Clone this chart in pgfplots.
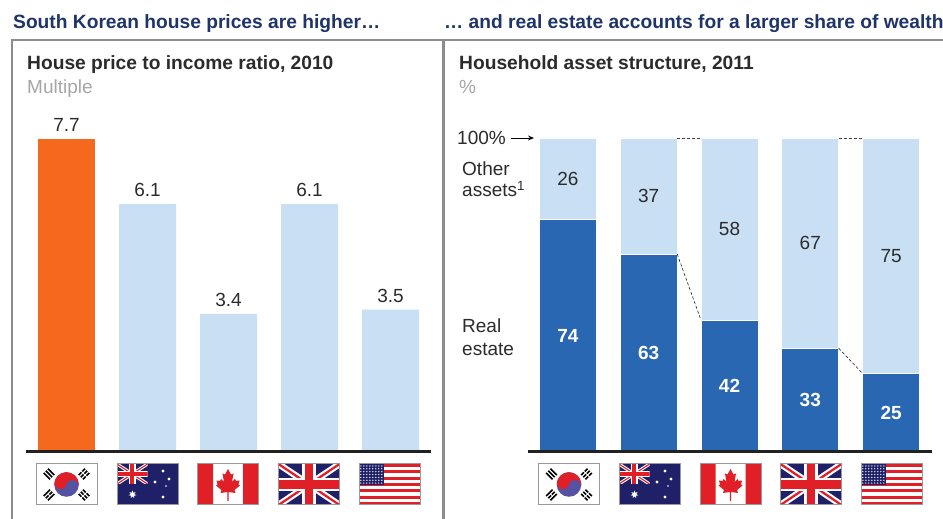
\documentclass[border=0pt]{standalone}
\usepackage{pgfplots}
\usepackage{fontspec}
\usetikzlibrary{arrows.meta,shapes.geometric}
\setmainfont{Liberation Sans}
\pgfplotsset{compat=1.18}
\definecolor{head}{HTML}{1F3468}
\definecolor{frameg}{HTML}{8C8C8C}
\definecolor{subg}{HTML}{A6A6A6}
\definecolor{txt}{HTML}{2B2B2B}
\definecolor{orangeb}{HTML}{F5691F}
\definecolor{lightb}{HTML}{C9E0F4}
\definecolor{blueb}{HTML}{2967B2}
\definecolor{fred}{HTML}{E01F26}
\definecolor{fnavy}{HTML}{1F2068}
\definecolor{fblue}{HTML}{5552A3}
\definecolor{fbord}{HTML}{999999}
\newcommand{\bighead}{\fontsize{19.2}{21}\selectfont\bfseries}
\newcommand{\regular}{\fontsize{19}{21}\selectfont}
\pgfplotstableread{
x v
0 7.7
}\dataKR
\pgfplotstableread{
x v
1 6.1
2 3.4
3 6.1
4 3.5
}\dataOthers
\pgfplotstableread{
x v
0 74
1 63
2 42
3 33
4 25
}\dataReal
\pgfplotstableread{
x v
0 26
1 37
2 58
3 67
4 75
}\dataOther
\newcommand{\flagframe}{\draw[fbord,line width=1pt] (0,0) rectangle (61,41);}
\newcommand{\trigram}[4]{%
 \begin{scope}[shift={(#1,#2)},rotate=#3]
  \foreach \yy in {-3,0,3}{\draw[black,line width=1.7pt] (-4.5,\yy) -- (4.5,\yy);}
  #4
 \end{scope}}
\newcommand{\flagKR}[2]{%
\begin{scope}[shift={(#1,#2)},x=1pt,y=-1pt]
 \fill[white] (0,0) rectangle (61,41);
 \fill[fblue] (30.5,20.5) circle (12.3);
 \begin{scope}[shift={(30.5,20.5)},rotate=-15]
 \fill[fred] (-12.3,0) arc[start angle=180,end angle=360,radius=12.3] arc[start angle=0,end angle=-180,radius=6.15] arc[start angle=0,end angle=180,radius=6.15] -- cycle;
 \end{scope}
 \trigram{13}{10}{-45}{}
 \trigram{48}{10}{45}{\draw[white,line width=1pt] (0,-5)--(0,5);}
 \trigram{13}{31}{45}{\draw[white,line width=1pt] (0,-1)--(0,1);}
 \trigram{48}{31}{-45}{\draw[white,line width=1pt] (0,-5)--(0,5);}
 \flagframe
\end{scope}}
\newcommand{\unionjack}[2]{% width height
 \begin{scope}
 \clip (0,0) rectangle (#1,#2);
 \fill[fnavy] (0,0) rectangle (#1,#2);
 \draw[white,line width=#2*0.16pt] (0,0)--(#1,#2) (0,#2)--(#1,0);
 \draw[fred,line width=#2*0.055pt] (0,0)--(#1,#2) (0,#2)--(#1,0);
 \draw[white,line width=#2*0.34pt] (#1*0.5,0)--(#1*0.5,#2) (0,#2*0.5)--(#1,#2*0.5);
 \draw[fred,line width=#2*0.2pt] (#1*0.5,0)--(#1*0.5,#2) (0,#2*0.5)--(#1,#2*0.5);
 \end{scope}}
\newcommand{\flagAU}[2]{%
\begin{scope}[shift={(#1,#2)},x=1pt,y=-1pt]
 \fill[fnavy] (0,0) rectangle (61,41);
 \unionjack{30.5}{20}
 \node[star,star points=7,star point ratio=2.2,fill=white,inner sep=0,minimum size=8pt] at (15.5,30.5) {};
 \foreach \a/\b/\r in {46/7/1.6,38/18/1.6,52/15/1.6,46/33/1.6,49/22/0.8}{\fill[white] (\a,\b) circle (\r);}
 \flagframe
\end{scope}}
\newcommand{\flagCA}[2]{%
\begin{scope}[shift={(#1,#2)},x=1pt,y=-1pt]
 \fill[white] (0,0) rectangle (61,41);
 \fill[fred] (0,0) rectangle (15.5,41) (45.5,0) rectangle (61,41);
 \fill[fred] (30.5,5)--(27.5,10.5)--(25,9.5)--(26.5,18)--(23.5,15)--(22.5,17)--(19,16.5)--(20,20.5)--(18.5,21.5)--(24,26)--(23,29)--(29.8,28)--(29.8,37)--(31.2,37)--(31.2,28)--(38,29)--(37,26)--(42.5,21.5)--(41,20.5)--(42,16.5)--(38.5,17)--(37.5,15)--(34.5,18)--(36,9.5)--(33.5,10.5)--cycle;
 \flagframe
\end{scope}}
\newcommand{\flagUK}[2]{%
\begin{scope}[shift={(#1,#2)},x=1pt,y=-1pt]
 \unionjack{61}{41}
 \flagframe
\end{scope}}
\newcommand{\flagUS}[2]{%
\begin{scope}[shift={(#1,#2)},x=1pt,y=-1pt]
 \fill[white] (0,0) rectangle (61,41);
 \foreach \i in {0,2,...,12}{\fill[fred] (0,{\i*41/13}) rectangle (61,{(\i+1)*41/13});}
 \fill[fnavy] (0,0) rectangle (24.5,21);
 \foreach \i in {0,...,7}{\foreach \j in {0,...,6}{\fill[white] ({1.8+\i*3},{2+\j*2.85}) circle (0.7);}}
 \flagframe
\end{scope}}
\begin{document}
\begin{tikzpicture}[x=1pt,y=1pt]
\useasboundingbox (0,0) rectangle (943,519);
\fill[white] (0,0) rectangle (943,519);
% frame
\draw[frameg,line width=2.2pt] (12,0) -- (12,479) -- (943,479);
\draw[frameg,line width=2.2pt] (443.5,0) -- (443.5,479);
% headings
\node[anchor=base west,inner sep=0,font=\bighead,text=head] at (13,490) {South Korean house prices are higher…};
\node[anchor=base west,inner sep=0,font=\bighead,text=head] at (444,490) {… and real estate accounts for a larger share of wealth};
\node[anchor=base west,inner sep=0,font=\bighead,text=txt] at (27,449) {House price to income ratio, 2010};
\node[anchor=base west,inner sep=0,font=\regular,text=subg] at (27,425) {Multiple};
\node[anchor=base west,inner sep=0,font=\bighead,text=txt] at (459,449) {Household asset structure, 2011};
\node[anchor=base west,inner sep=0,font=\regular,text=subg] at (459,425) {\%};
% left axis
\begin{axis}[
 at={(26pt,67pt)},anchor=south west,scale only axis,width=405pt,height=313pt,
 xmin=-0.5,xmax=4.5,ymin=0,ymax=7.7,clip=false,axis on top,
 axis x line=bottom,axis y line=none,axis line style={-,line width=3pt,color=black!87},
 xtick=\empty,ytick=\empty,
 nodes near coords,
 every node near coord/.append style={font=\regular,text=txt,inner sep=0,yshift=7pt,anchor=south,/pgf/number format/fixed,/pgf/number format/precision=1,/pgf/number format/fixed zerofill,/pgf/number format/assume math mode=true},
 ]
 \addplot[ybar,bar width=57pt,bar shift=0pt,fill=orangeb,draw=none] table[x=x,y=v] {\dataKR};
 \addplot[ybar,bar width=57pt,bar shift=0pt,fill=lightb,draw=none] table[x=x,y=v] {\dataOthers};
\end{axis}
% right axis
\begin{axis}[
 at={(527.5pt,67pt)},anchor=south west,scale only axis,width=404pt,height=314pt,
 xmin=-0.5,xmax=4.5,ymin=0,ymax=100,clip=false,axis on top,
 ybar stacked,bar width=57pt,
 axis x line=bottom,axis y line=none,axis line style={-,line width=3pt,color=black!87},
 xtick=\empty,ytick=\empty,
 nodes near coords,
 every node near coord/.append style={font=\regular,inner sep=0,anchor=center,/pgf/number format/assume math mode=true},
 ]
 \addplot[fill=blueb,draw=white,line width=0.8pt,nodes near coords style={text=white,font=\regular\bfseries}] table[x=x,y=v,meta=v] {\dataReal};
 \addplot[fill=lightb,draw=white,line width=0.8pt,nodes near coords style={text=txt}] table[x=x,y=v,meta=v] {\dataOther};
\end{axis}
% connectors
\begin{axis}[
 at={(527.5pt,67pt)},anchor=south west,scale only axis,width=404pt,height=314pt,
 xmin=-0.5,xmax=4.5,ymin=0,ymax=100,clip=false,hide axis]
 \addplot[black!75,densely dashed,line width=0.7pt,forget plot] coordinates {(1.353,100) (1.647,100)};
 \addplot[black!75,densely dashed,line width=0.7pt,forget plot] coordinates {(3.353,100) (3.647,100)};
 \addplot[black,densely dashed,line width=0.5pt,forget plot] coordinates {(1.353,63) (1.647,42)};
 \addplot[black,densely dashed,line width=0.5pt,forget plot] coordinates {(3.353,33) (3.647,25)};
\end{axis}
% annotations
\node[anchor=base west,inner sep=0,font=\regular,text=txt] at (457,374.5) {100\%};
\draw[-{Stealth[length=6pt,width=5pt]},black,line width=0.9pt] (511,381) -- (534,381);
\node[anchor=base west,inner sep=0,font=\regular,text=txt] at (462,343.5) {Other};
\node[anchor=base west,inner sep=0,font=\regular,text=txt] at (462,322) {assets\textsuperscript{1}};
\node[anchor=base west,inner sep=0,font=\regular,text=txt] at (462,186.5) {Real};
\node[anchor=base west,inner sep=0,font=\regular,text=txt] at (462,163.5) {estate};
% flags
\flagKR{36}{55}\flagAU{117}{55}\flagCA{197.5}{55}\flagUK{278.5}{55}\flagUS{359}{55}
\flagKR{538.5}{55}\flagAU{619}{55}\flagCA{700}{55}\flagUK{780.5}{55}\flagUS{861}{55}
\end{tikzpicture}
\end{document}
